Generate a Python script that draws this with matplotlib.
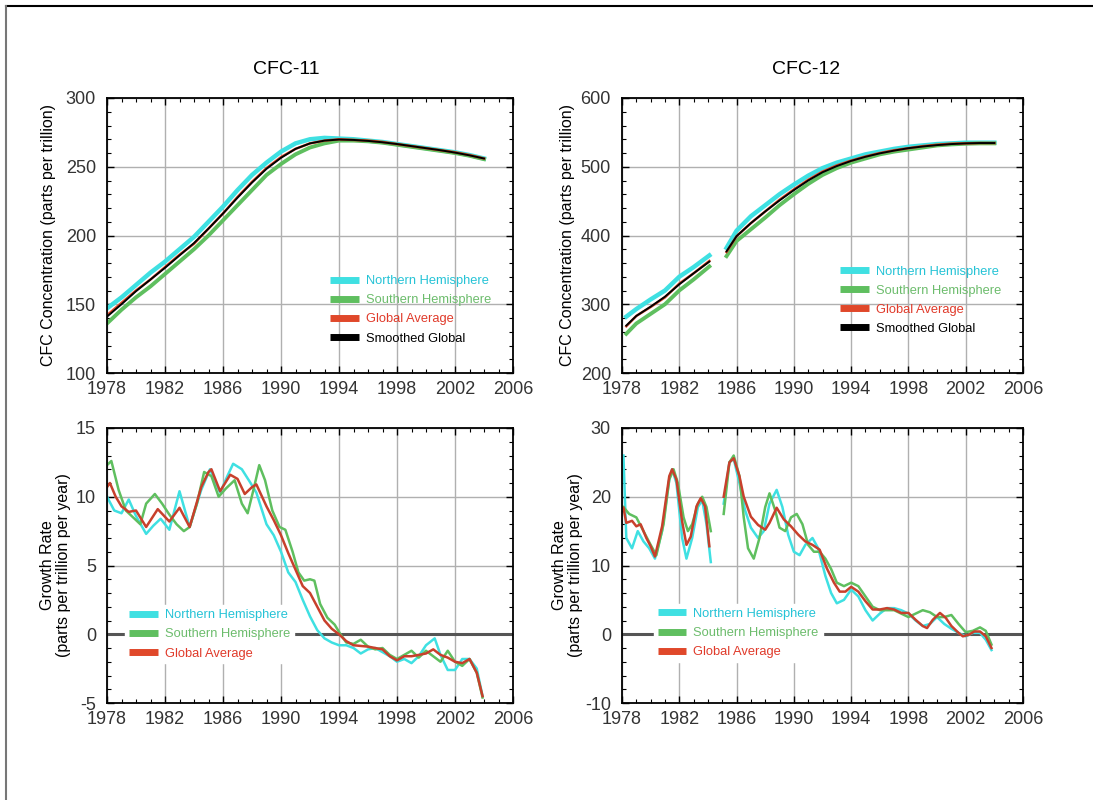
import numpy as np
import matplotlib
matplotlib.use("Agg")
import matplotlib.pyplot as plt
from matplotlib.ticker import MultipleLocator, FixedLocator
from matplotlib.lines import Line2D

plt.rcParams['font.family'] = ['Liberation Sans', 'DejaVu Sans']
plt.rcParams['axes.unicode_minus'] = False

# ---------------- DATA ----------------
# CFC-11 concentration (ppt), annual
yrs11 = [1978, 1979, 1980, 1981, 1982, 1983, 1984, 1985, 1986, 1987, 1988, 1989, 1990,
         1991, 1992, 1993, 1994, 1995, 1996, 1997, 1998, 1999, 2000, 2001, 2002, 2003, 2004]
nh11 = [147, 155, 164, 173, 181, 190, 199, 210, 221, 233, 244, 253, 261,
        267, 270, 271, 270.5, 270, 269, 268, 266.5, 265, 263.5, 262, 260.5, 258.5, 256]
sh11 = [136, 146, 155, 163, 172, 181, 190, 200, 211, 222, 233, 244, 252,
        259, 264, 267, 269, 269, 268.5, 267.5, 266, 264.5, 263, 261.5, 260, 258, 255.5]
gl11 = [142, 151, 160, 168, 177, 186, 194, 205, 216, 228, 239, 249, 257,
        263, 267, 269, 270, 269.5, 269, 268, 266.5, 265, 263.5, 262, 260.5, 258.5, 256]
sm11 = [141, 150, 159.5, 168, 176.5, 185.5, 194.5, 205, 216, 227.5, 238.5, 248.5, 256.5,
        263, 267, 269, 269.8, 269.5, 268.8, 267.8, 266.5, 265, 263.5, 262, 260.3, 258.3, 256]

# CFC-12 concentration (ppt), gap 1984-1985
yrs12 = [1978.3, 1979, 1980, 1981, 1982, 1983, 1984.1, np.nan, 1985.3, 1986, 1987, 1988, 1989,
         1990, 1991, 1992, 1993, 1994, 1995, 1996, 1997, 1998, 1999, 2000, 2001, 2002, 2003, 2004]
nh12 = [282, 293, 307, 320, 340, 354, 371, np.nan, 382, 407, 428, 444, 460,
        474, 487, 498, 506, 512, 518, 522, 526, 529, 531, 533, 534, 535, 535, 535]
sh12 = [257, 272, 286, 300, 320, 336, 355, np.nan, 370, 392, 409, 426, 444,
        460, 475, 488, 498, 506, 512, 518, 522, 525, 528, 531, 532.5, 533.5, 534, 534]
gl12 = [268, 283, 296, 310, 330, 345, 363, np.nan, 376, 399, 418, 435, 452,
        467, 481, 493, 502, 509, 515, 520, 524, 527, 530, 532, 533.5, 534, 534.5, 534.5]
sm12 = [269, 283, 296.5, 311, 329, 345, 362, np.nan, 377, 399, 418, 435, 451,
        466, 480, 492, 501, 508.5, 514.5, 519.5, 523.5, 527, 529.5, 531.5, 533, 534, 534.5, 534.5]

# CFC-11 growth rate (ppt/yr)
gyr11_nh = [1978.0, 1978.5, 1979.0, 1979.5, 1980.0, 1980.7, 1981.2, 1981.7, 1982.3, 1983.0,
            1983.7, 1984.5, 1985.1, 1985.8, 1986.3, 1986.7, 1987.3, 1987.9, 1988.3, 1989.0,
            1989.5, 1990.0, 1990.5, 1991.0, 1991.5, 1992.0, 1992.5, 1993.0, 1993.5, 1994.0,
            1994.5, 1995.0, 1995.5, 1996.0, 1996.5, 1997.0, 1997.5, 1998.0, 1998.5, 1999.0,
            1999.5, 2000.0, 2000.6, 2001.0, 2001.5, 2002.0, 2002.5, 2003.0, 2003.5, 2003.9]
nh_g11 = [10.0, 9.0, 8.8, 9.8, 8.6, 7.3, 7.9, 8.4, 7.6, 10.4,
          7.8, 10.5, 12.0, 10.3, 11.5, 12.4, 12.0, 11.0, 10.3, 8.0,
          7.2, 6.0, 4.5, 3.8, 2.5, 1.3, 0.3, -0.3, -0.6, -0.8,
          -0.8, -1.0, -1.4, -1.1, -1.0, -1.3, -1.6, -2.0, -1.8, -2.1,
          -1.6, -0.8, -0.3, -1.5, -2.6, -2.6, -1.8, -1.8, -2.5, -4.5]
gyr11_sh = [1978.0, 1978.3, 1978.8, 1979.3, 1979.8, 1980.3, 1980.7, 1981.3, 1981.8, 1982.3,
            1982.8, 1983.3, 1983.7, 1984.2, 1984.7, 1985.2, 1985.7, 1986.2, 1986.8, 1987.3,
            1987.7, 1988.1, 1988.5, 1988.9, 1989.4, 1989.9, 1990.3, 1990.8, 1991.2, 1991.6,
            1992.0, 1992.3, 1992.7, 1993.2, 1993.7, 1994.1, 1994.5, 1995.0, 1995.5, 1996.0,
            1996.5, 1997.0, 1997.5, 1998.0, 1998.5, 1999.0, 1999.5, 2000.0, 2000.5, 2001.0,
            2001.5, 2002.0, 2002.5, 2003.0, 2003.5, 2003.9]
sh_g11 = [12.3, 12.6, 10.5, 9.0, 8.5, 8.0, 9.5, 10.2, 9.5, 8.7,
          8.0, 7.5, 7.8, 9.5, 11.8, 11.5, 10.0, 10.6, 11.2, 9.5,
          8.8, 10.5, 12.3, 11.2, 9.0, 7.8, 7.6, 6.0, 4.5, 3.9,
          4.0, 3.9, 2.2, 1.2, 0.7, 0.0, -0.6, -0.7, -0.4, -0.9,
          -1.1, -1.0, -1.5, -1.8, -1.5, -1.2, -1.7, -1.2, -1.6, -2.0,
          -1.2, -2.0, -2.3, -1.8, -2.8, -4.6]
gyr11_gl = [1978.0, 1978.2, 1978.6, 1979.0, 1979.5, 1980.0, 1980.7, 1981.5, 1982.3, 1983.0,
            1983.7, 1984.5, 1985.0, 1985.2, 1985.8, 1986.5, 1987.0, 1987.5, 1988.0, 1988.3,
            1989.0, 1989.5, 1990.0, 1990.5, 1991.0, 1991.5, 1992.0, 1992.5, 1993.0, 1993.5,
            1994.0, 1994.5, 1995.0, 1996.0, 1997.0, 1997.5, 1998.0, 1998.5, 1999.0, 1999.5,
            2000.0, 2000.5, 2001.0, 2001.5, 2002.0, 2002.5, 2003.0, 2003.5, 2003.9]
gl_g11 = [10.7, 11.0, 10.0, 9.3, 8.9, 9.0, 7.8, 9.1, 8.2, 9.2,
          7.8, 10.7, 11.8, 12.0, 10.4, 11.6, 11.3, 10.2, 10.7, 10.9,
          9.3, 8.3, 7.2, 5.9, 4.7, 3.5, 3.0, 2.0, 1.0, 0.4,
          0.0, -0.5, -0.8, -0.9, -1.1, -1.6, -1.9, -1.6, -1.6, -1.5,
          -1.4, -1.1, -1.5, -1.7, -2.0, -2.1, -1.8, -2.8, -4.5]

# CFC-12 growth rate (ppt/yr), gap 1984-1985
gyr12_nh = [1978.1, 1978.3, 1978.7, 1979.1, 1979.5, 1979.9, 1980.3, 1980.8, 1981.3, 1981.5,
            1981.8, 1982.2, 1982.5, 1982.9, 1983.3, 1983.6, 1983.9, 1984.2, np.nan, 1985.1,
            1985.5, 1985.8, 1986.2, 1986.6, 1987.0, 1987.5, 1987.9, 1988.3, 1988.8, 1989.2,
            1989.6, 1990.0, 1990.4, 1990.8, 1991.3, 1991.7, 1992.2, 1992.6, 1993.0, 1993.5,
            1994.0, 1994.5, 1995.0, 1995.5, 1996.0, 1996.5, 1997.0, 1997.5, 1998.0, 1998.5,
            1999.0, 1999.5, 2000.0, 2000.5, 2001.0, 2001.5, 2002.0, 2002.5, 2003.0, 2003.4, 2003.8]
nh_g12 = [26.0, 14.0, 12.5, 15.0, 13.5, 12.5, 11.0, 15.0, 22.5, 24.0,
          22.0, 14.0, 11.0, 14.0, 18.5, 19.5, 16.0, 10.5, np.nan, 19.0,
          25.0, 25.5, 22.0, 18.0, 15.5, 14.0, 15.0, 19.0, 21.0, 18.5,
          14.5, 12.0, 11.5, 13.0, 14.0, 12.5, 8.5, 6.0, 4.5, 5.0,
          6.5, 5.5, 3.5, 2.0, 3.0, 3.8, 3.8, 3.5, 3.0, 2.0,
          1.2, 1.5, 2.5, 1.5, 0.8, 0.2, -0.3, 0.2, 0.2, -0.8, -2.3]
gyr12_sh = [1978.1, 1978.5, 1979.0, 1979.5, 1980.0, 1980.4, 1980.9, 1981.3, 1981.6, 1981.9,
            1982.3, 1982.6, 1982.9, 1983.3, 1983.6, 1983.9, 1984.2, np.nan, 1985.1, 1985.5,
            1985.8, 1986.2, 1986.5, 1986.8, 1987.2, 1987.6, 1988.0, 1988.3, 1988.7, 1989.0,
            1989.4, 1989.8, 1990.2, 1990.6, 1991.0, 1991.4, 1991.8, 1992.2, 1992.6, 1993.0,
            1993.5, 1994.0, 1994.5, 1995.0, 1995.5, 1996.0, 1996.5, 1997.0, 1997.5, 1998.0,
            1998.5, 1999.0, 1999.5, 2000.0, 2000.5, 2001.0, 2001.5, 2002.0, 2002.5, 2003.0,
            2003.4, 2003.8]
sh_g12 = [18.5, 17.5, 17.0, 15.0, 13.0, 11.5, 16.0, 22.5, 24.0, 22.0,
          17.0, 15.0, 16.0, 19.0, 20.0, 18.5, 15.0, np.nan, 17.5, 25.0,
          26.0, 23.0, 17.0, 12.5, 11.0, 14.0, 18.5, 20.5, 18.0, 15.5,
          15.0, 17.0, 17.5, 16.0, 13.0, 12.0, 12.0, 11.0, 9.5, 7.5,
          7.0, 7.5, 7.0, 5.5, 4.0, 3.5, 3.5, 3.5, 3.0, 2.5,
          3.0, 3.5, 3.2, 2.5, 2.5, 2.8, 1.5, 0.3, 0.5, 1.0,
          0.5, -1.5]
gyr12_gl = [1978.1, 1978.3, 1978.7, 1979.0, 1979.3, 1979.7, 1980.0, 1980.3, 1980.8, 1981.3,
            1981.5, 1981.8, 1982.2, 1982.5, 1982.8, 1983.2, 1983.5, 1983.8, 1984.1, np.nan,
            1985.1, 1985.5, 1985.8, 1986.2, 1986.5, 1987.0, 1987.5, 1988.0, 1988.3, 1988.8,
            1989.3, 1989.8, 1990.3, 1990.8, 1991.3, 1991.8, 1992.3, 1992.8, 1993.2, 1993.6,
            1994.0, 1994.5, 1995.0, 1995.5, 1996.0, 1996.5, 1997.0, 1997.5, 1998.0, 1998.5,
            1999.0, 1999.3, 1999.7, 2000.2, 2000.6, 2001.0, 2001.5, 2001.8, 2002.2, 2002.6,
            2003.0, 2003.4, 2003.8]
gl_g12 = [18.4, 16.2, 16.5, 15.7, 16.0, 14.0, 12.8, 11.3, 15.7, 23.0,
          24.0, 22.5, 16.4, 13.0, 14.2, 18.6, 19.8, 18.6, 12.8, np.nan,
          20.0, 25.0, 25.6, 23.0, 20.0, 17.1, 15.9, 15.2, 16.2, 18.4,
          16.7, 15.7, 14.5, 13.5, 13.0, 12.3, 9.6, 7.5, 6.2, 6.2,
          6.9, 6.2, 4.8, 3.6, 3.6, 3.8, 3.6, 3.1, 3.1, 2.1,
          1.2, 0.9, 2.1, 3.1, 2.4, 1.2, 0.2, -0.3, -0.1, 0.4,
          0.4, -0.3, -2.0]

YEAR_TICKS = [1978, 1982, 1986, 1990, 1994, 1998, 2002, 2006]

# ---------------- STYLE ----------------
C_NH = "#3fe0e2"
C_SH = "#5fbf5f"
C_GL = "#e0482a"
C_SM = "#000000"
TXT_NH = "#25c3d6"
TXT_SH = "#6cbc6c"
TXT_GL = "#e03a2a"
TICK_C = "#333333"

fig = plt.figure(figsize=(10.93, 8), dpi=100)

# frame lines at top and left of the page
fig.add_artist(Line2D([6/1093, 1], [1 - 6/800, 1 - 6/800], color="black", lw=1.5))
fig.add_artist(Line2D([6/1093, 6/1093], [0, 1 - 6/800], color="#777777", lw=1.5))


def style_axes(ax, ylim, ymajor, yminor):
    ax.set_xlim(1978, 2006)
    ax.set_ylim(*ylim)
    ax.xaxis.set_major_locator(FixedLocator(YEAR_TICKS))
    ax.xaxis.set_minor_locator(MultipleLocator(1))
    ax.yaxis.set_major_locator(MultipleLocator(ymajor))
    ax.yaxis.set_minor_locator(MultipleLocator(yminor))
    ax.tick_params(which="both", direction="in", top=True, right=True, colors="black",
                   labelcolor=TICK_C, labelsize=13)
    ax.tick_params(which="major", length=5, width=1)
    ax.tick_params(which="minor", length=3, width=0.8)
    ax.tick_params(axis="x", pad=6)
    ax.tick_params(axis="y", pad=8)
    ax.grid(True, which="major", color="#b0b0b0", lw=1)
    ax.set_axisbelow(True)
    for s in ax.spines.values():
        s.set_linewidth(1.3)


def add_legend(ax, labels_colors, anchor, frame=False):
    handles = [Line2D([], [], color=c, lw=5, solid_capstyle="butt") for _, c, _ in labels_colors]
    leg = ax.legend(handles, [l for l, _, _ in labels_colors], loc="upper left",
                    bbox_to_anchor=anchor, fontsize=9.3, handlelength=2.2, handletextpad=0.55,
                    labelspacing=0.55, borderpad=0.3, borderaxespad=0, frameon=frame,
                    fancybox=False)
    for t, (_, _, tc) in zip(leg.get_texts(), labels_colors):
        t.set_color(tc)
    if frame:
        leg.get_frame().set_facecolor("white")
        leg.get_frame().set_edgecolor("white")
        leg.get_frame().set_alpha(1)
    leg.set_zorder(5)
    return leg


LEG4 = [("Northern Hemisphere", C_NH, TXT_NH),
        ("Southern Hemisphere", C_SH, TXT_SH),
        ("Global Average", C_GL, TXT_GL),
        ("Smoothed Global", C_SM, "black")]
LEG3 = LEG4[:3]

# ---------- top left: CFC-11 concentration ----------
ax1 = fig.add_axes([107/1093, 1 - 373/800, 406/1093, 275/800])
style_axes(ax1, (100, 300), 50, 10)
ax1.plot(yrs11, nh11, color=C_NH, lw=3.2)
ax1.plot(yrs11, sh11, color=C_SH, lw=2.8)
ax1.plot(yrs11, gl11, color=C_GL, lw=1.8)
ax1.plot(yrs11, sm11, color=C_SM, lw=1.4)
ax1.set_ylabel("CFC Concentration (parts per trillion)", fontsize=11.5)
ax1.yaxis.set_label_coords(-0.125, 0.5)
add_legend(ax1, LEG4, (0.54, 0.37))
fig.text(286/1093, 1 - 70/800, "CFC-11", fontsize=14, ha="center", va="center")

# ---------- top right: CFC-12 concentration ----------
ax2 = fig.add_axes([622/1093, 1 - 373/800, 401/1093, 275/800])
style_axes(ax2, (200, 600), 100, 20)
ax2.plot(yrs12, nh12, color=C_NH, lw=3.2)
ax2.plot(yrs12, sh12, color=C_SH, lw=2.8)
ax2.plot(yrs12, gl12, color=C_GL, lw=1.8)
ax2.plot(yrs12, sm12, color=C_SM, lw=1.4)
ax2.set_ylabel("CFC Concentration (parts per trillion)", fontsize=11.5)
ax2.yaxis.set_label_coords(-0.117, 0.5)
add_legend(ax2, LEG4, (0.535, 0.405))
fig.text(806/1093, 1 - 70/800, "CFC-12", fontsize=14, ha="center", va="center")

# ---------- bottom left: CFC-11 growth rate ----------
ax3 = fig.add_axes([107/1093, 1 - 703/800, 406/1093, 275/800])
style_axes(ax3, (-5, 15), 5, 1)
ax3.axhline(0, color="#555555", lw=2.2, zorder=1.5)
ax3.plot(gyr11_nh, nh_g11, color=C_NH, lw=1.8)
ax3.plot(gyr11_sh, sh_g11, color=C_SH, lw=1.8)
ax3.plot(gyr11_gl, gl_g11, color="#c8402c", lw=1.8)
ax3.set_ylabel("Growth Rate\n(parts per trillion per year)", fontsize=11.5, linespacing=1.1)
ax3.yaxis.set_label_coords(-0.088, 0.5)
add_legend(ax3, LEG3, (0.045, 0.355), frame=True)

# ---------- bottom right: CFC-12 growth rate ----------
ax4 = fig.add_axes([622/1093, 1 - 703/800, 401/1093, 275/800])
style_axes(ax4, (-10, 30), 10, 2)
ax4.axhline(0, color="#555555", lw=2.2, zorder=1.5)
ax4.plot(gyr12_nh, nh_g12, color=C_NH, lw=1.8)
ax4.plot(gyr12_sh, sh_g12, color=C_SH, lw=1.8)
ax4.plot(gyr12_gl, gl_g12, color="#c8402c", lw=1.8)
ax4.set_ylabel("Growth Rate\n(parts per trillion per year)", fontsize=11.5, linespacing=1.1)
ax4.yaxis.set_label_coords(-0.097, 0.5)
add_legend(ax4, LEG3, (0.08, 0.36), frame=True)

fig.savefig("out.png", dpi=100)
